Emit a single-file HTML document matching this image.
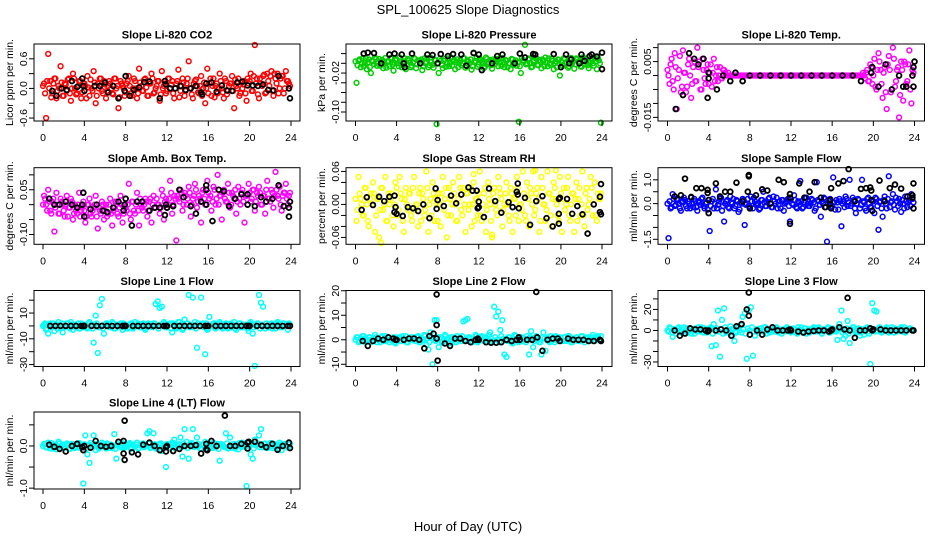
<!DOCTYPE html>
<html><head><meta charset="utf-8"><style>
html,body{margin:0;padding:0;background:#fff;}
svg{display:block;font-family:"Liberation Sans",sans-serif;}
</style></head><body>
<svg id="chart" width="936" height="540" viewBox="0 0 936 540" xmlns="http://www.w3.org/2000/svg">
<text x="468" y="14" text-anchor="middle" font-size="13">SPL_100625  Slope Diagnostics</text>
<text x="468" y="531" text-anchor="middle" font-size="13">Hour of Day (UTC)</text>
</svg>
<script>
// ---------- data ----------
const xTickVals=[0,4,8,12,16,20,24];
const xTickLabels=["0","4","8","12","16","20","24"];
const titles=["Slope Li-820 CO2","Slope Li-820 Pressure","Slope Li-820 Temp.","Slope Amb. Box Temp.","Slope Gas Stream RH","Slope Sample Flow","Slope Line 1 Flow","Slope Line 2 Flow","Slope Line 3 Flow","Slope Line 4 (LT) Flow"];
const yTitles=["Licor ppm per min.","kPa per min.","degrees C per min.","degrees C per min.","percent per min.","ml/min per min.","ml/min per min.","ml/min per min.","ml/min per min.","ml/min per min."];
const yLimits=[[-0.66,0.9],[-0.1185,0.0397],[-0.0163,0.0113],[-0.133,0.124],[-0.0725,0.0668],[-1.71,1.51],[-31.5,27.5],[-10.9,20.1],[-34.3,38],[-1.02,0.805]];
const yTickVals=[[-0.6,-0.3,0,0.3,0.6],[0.02,0,-0.02,-0.04,-0.06,-0.08,-0.1],[0.01,0.005,0,-0.005,-0.01,-0.015],[0.1,0.05,0,-0.05,-0.1],[0.06,0.04,0.02,0,-0.02,-0.04,-0.06],[1,0.5,0,-0.5,-1,-1.5],[20,10,0,-10,-20,-30],[20,15,10,5,0,-5,-10],[30,20,10,0,-10,-20,-30],[0.5,0,-0.5,-1]];
const yTickLabels=[["-0.6","","0.0","","0.6"],["","","-0.02","","","","-0.10"],["","0.005","","","","-0.015"],["","0.05","","","-0.10"],["0.06","","","0.00","","","-0.06"],["1.0","","0.0","","","-1.5"],["","10","","-10","","-30"],["20","","10","","0","","-10"],["","20","","0","","","-30"],["","0.0","","-1.0"]];
const seriesColors=["#ff0000","#00cd00","#ff00ff","#ff00ff","#ffff00","#0000ff","#00ffff","#00ffff","#00ffff","#00ffff"];
const slotStart=0.1, slotStep=0.2;   // first colored array sampled every 0.2 h
const slotStartB=0.0;                // second colored array offset by 0.1 h

const co2Y=[0.1,-0.6,0.7,0.15,-0.1,0.2,-0.2,0.05,0.45,-0.15,0.1,-0.05,0.2,-0.25,0.3,0.0,-0.1,0.15,-0.2,0.1,0.05,0.25,-0.15,0.0,0.35,-0.3,0.1,0.2,-0.05,0.15,-0.2,0.05,0.1,-0.1,0.2,0.0,-0.4,0.15,0.05,-0.15,0.1,0.25,-0.1,0.0,0.15,-0.2,0.4,0.05,-0.05,0.2,-0.15,0.1,0.3,-0.1,0.0,0.15,-0.25,0.35,0.05,-0.1,0.2,0.0,0.15,-0.2,0.1,0.38,-0.05,0.2,-0.15,0.1,0.55,0.0,-0.2,0.15,0.05,-0.1,0.25,0.0,-0.3,0.4,0.1,-0.15,0.2,0.05,-0.1,0.3,0.0,-0.2,0.15,-0.05,0.1,0.25,-0.4,0.05,0.2,-0.1,0.0,0.15,-0.25,0.1,0.3,-0.05,0.88,0.2,-0.2,0.1,0.25,-0.1,0.3,0.05,0.35,-0.15,0.2,0.3,0.0,0.25,-0.1,0.35,0.15,0.05];
const co2B=[0.05,-0.1,0.15,0.0,-0.18,0.1,0.2,-0.05,0.0,0.12,-0.15,0.08,0.18,-0.1,0.0,0.2,-0.12,0.05,0.15,-0.08,0.1,-0.2,0.02,0.18,-0.05,0.12,-0.15,0.0,0.2,-0.1,0.08,-0.05,0.15,0.0,-0.12,0.2,0.05,-0.18,0.1,0.0,-0.08,0.15,0.05,-0.15,0.2,0.0,-0.1,0.12,-0.05,0.18,0.02,-0.15,0.1,0.2,-0.08,0.05,0.15,-0.12,0.0,0.1,-0.05,0.2,0.08,-0.1,0.0,0.15,-0.18,0.05,0.12,-0.05,0.2,0.0,-0.12,0.1,0.18,-0.08,0.05,-0.15,0.12,0.0,-0.1,0.2,0.05,-0.18,0.1,0.0,0.15,-0.08,0.2,-0.12,0.05,0.1,-0.05,0.18,0.0,-0.15,0.12,0.08,-0.1,0.2,0.15,-0.05,0.25,0.1,-0.12,0.2,0.05,0.28,-0.08,0.15,0.25,-0.05,0.3,0.1,-0.1,0.2,0.25,0.0,0.15,0.1];
const co2Black=[[0.9,-0.05],[1.3,-0.15],[1.8,0.0],[2.3,-0.03],[2.8,0.15],[3.3,0.03],[3.8,0.2],[3.9,0.05],[4.0,-0.05],[5,0.05],[5.5,0.05],[6,0.12],[6.3,-0.08],[6.8,0.05],[7.3,-0.2],[7.9,-0.05],[8.0,0.25],[8.4,-0.15],[8.8,-0.03],[9.3,0.02],[9.8,0.13],[10.3,0.14],[11.3,-0.2],[11.8,0.15],[11.9,0.08],[12.3,0.0],[12.8,0.0],[13.3,0.05],[13.8,-0.03],[14.3,0.0],[14.8,0.05],[15.3,-0.08],[15.4,-0.12],[15.8,0.1],[16.3,0.12],[16.8,-0.07],[17.3,0.06],[17.8,-0.04],[18.3,-0.05],[18.8,0.12],[19.3,0.14],[19.8,0.06],[20.3,0.06],[20.8,0.05],[21.3,0.08],[21.8,-0.03],[22.3,-0.04],[22.8,0.25],[23.8,0.0],[23.9,-0.2]];

const presY=[-0.04,0.005,-0.008,0.01,0.0,-0.012,0.008,-0.02,0.004,0.012,-0.005,0.009,0.0,-0.01,0.011,0.003,-0.006,0.01,-0.015,0.006,0.0,0.012,-0.008,0.004,-0.012,0.009,0.002,-0.005,0.011,-0.01,0.006,0.0,-0.014,0.01,0.003,-0.008,0.012,-0.003,0.007,-0.125,-0.02,0.005,-0.01,0.009,0.0,-0.006,0.012,0.004,-0.012,0.008,0.001,-0.004,0.011,-0.009,0.006,0.0,-0.013,0.022,0.005,-0.007,0.01,0.003,-0.01,0.012,-0.002,0.007,-0.011,0.004,0.009,-0.006,0.002,0.011,-0.008,0.005,0.0,-0.012,0.008,0.003,-0.005,-0.12,-0.02,0.006,0.038,0.0,0.01,-0.008,0.004,0.011,-0.003,0.007,-0.01,0.005,0.012,-0.006,0.0,0.009,-0.012,0.004,0.008,-0.025,-0.004,0.011,0.002,-0.009,0.007,0.0,-0.011,0.01,0.004,-0.006,0.012,-0.002,0.008,-0.01,0.005,0.0,0.011,-0.012,0.006,-0.122];
const presB=[0.004,-0.004,0.008,0.0,-0.006,0.01,0.002,-0.008,0.006,-0.002,0.009,0.0,-0.005,0.007,0.003,-0.009,0.005,0.011,-0.003,0.001,0.008,-0.006,0.004,0.0,0.01,-0.004,0.006,-0.008,0.002,0.009,-0.002,0.005,0.008,-0.006,0.0,0.011,-0.004,0.003,-0.009,0.006,0.001,0.009,-0.003,0.005,-0.007,0.01,0.0,-0.005,0.007,0.003,-0.008,0.006,0.0,0.01,-0.004,0.004,0.008,-0.006,0.002,0.011,-0.003,0.006,0.0,-0.007,0.009,0.002,-0.004,0.008,-0.001,0.005,0.01,-0.005,0.003,0.007,-0.008,0.0,0.009,-0.003,0.006,0.002,-0.006,0.01,0.004,-0.002,0.008,0.0,-0.007,0.006,0.011,-0.004,0.003,0.008,-0.006,0.001,0.01,-0.003,0.005,0.0,-0.008,0.007,0.003,-0.005,0.009,0.001,-0.006,0.011,0.004,-0.002,0.008,0.0,-0.007,0.006,0.01,-0.004,0.002,0.008,-0.005,0.004,0.011,0.0];
const presBlack=[[0.8,0.02],[1.2,0.022],[1.8,0.021],[2.5,0.0],[3.3,0.018],[3.8,0.02],[4.5,0.018],[4.7,0.0],[4.8,-0.008],[5.5,0.02],[6.3,0.0],[7.0,0.018],[7.5,0.017],[8.0,0.0],[8.3,0.019],[9.0,0.015],[9.5,0.019],[10.3,0.018],[10.8,-0.005],[12.3,-0.014],[12.0,0.018],[11.5,0.021],[13.3,0.0],[13.8,0.015],[14.3,0.018],[15.5,0.0],[16.0,0.02],[16.5,0.012],[17.3,0.019],[17.5,0.018],[19.3,0.019],[20.5,0.018],[22.0,0.018],[21.8,0.0],[20.0,-0.008],[20.8,0.0],[21.0,0.008],[23.0,0.018],[23.5,0.014],[24.0,0.022],[24.0,-0.012],[22.3,0.005],[22.8,0.015]];

const tempY=[0.0,0.004,-0.002,0.008,-0.012,0.002,-0.006,0.009,0.001,-0.004,0.006,-0.008,0.003,-0.002,0.01,0.005,-0.005,0.002,-0.003,0.004,0.001,-0.004,0.006,0.0,-0.002,0.003,-0.001,0.002,0.0,0.001,
0,0,0,0,0,0,0,0,0,0,0,0,0,0,0,0,0,0,0,0,0,0,0,0,0,0,0,0,0,0,0,0,0,0,0,0,0,0,0,0,0,0,0,0,0,0,0,0,0,0,0,0,0,0,0,0,0,0,0,0,0,0,0,0,0,
0.0,0.001,-0.002,0.004,-0.003,0.006,-0.005,0.008,0.002,-0.008,0.003,-0.012,0.007,-0.006,0.01,-0.004,0.002,-0.015,0.005,-0.009,0.004,-0.002,0.009,-0.01,0.001];
const tempB=[0.002,-0.003,0.006,-0.005,0.003,-0.001,0.007,-0.004,0.001,-0.006,0.004,0.0,-0.003,0.005,-0.002,0.003,-0.005,0.006,-0.001,0.002,-0.003,0.004,0.001,-0.002,0.003,0.0,-0.001,0.002,0.001,0.0,
0,0,0,0,0,0,0,0,0,0,0,0,0,0,0,0,0,0,0,0,0,0,0,0,0,0,0,0,0,0,0,0,0,0,0,0,0,0,0,0,0,0,0,0,0,0,0,0,0,0,0,0,0,0,0,0,0,0,0,0,0,0,0,0,0,
0.001,-0.001,0.002,-0.002,0.003,0.0,-0.004,0.002,0.005,-0.003,0.001,-0.006,0.004,0.002,-0.005,0.006,-0.002,0.003,-0.007,0.002,0.005,-0.003,0.004,-0.005,0.002];
const tempBlack=[[0.8,-0.012],[1.5,-0.007],[2.1,0.008],[2.6,0.006],[3.0,0.004],[3.5,0.006],[4.0,-0.001],[4.0,0.001],[3.9,-0.008],[4.8,-0.005],[5.4,0.0],[6.1,-0.002],[6.6,0.001],[7.3,-0.002],[8,0],[9,0],[10,0],[11,0],[12,0],[13,0],[14,0],[15,0],[16,0],[17,0],[18,0],[18.8,-0.002],[19.8,0.001],[19.9,0.003],[21.2,0.004],[20.5,-0.004],[22.5,0.0],[22.9,-0.004],[23.8,0.0],[23.9,0.003],[24,0.005],[21.8,-0.005],[23.2,-0.004],[23.9,-0.004]];

const ambY=[0.03,0.0,0.05,-0.02,0.01,-0.09,0.04,-0.03,0.02,0.0,-0.04,0.03,-0.01,0.02,-0.05,0.0,-0.03,0.04,-0.02,0.01,-0.06,0.0,0.02,-0.04,-0.01,0.03,-0.08,-0.02,0.01,-0.05,0.0,-0.03,0.02,-0.07,-0.01,0.01,-0.04,0.03,-0.06,0.0,-0.02,0.07,-0.05,0.01,-0.03,0.04,-0.07,0.0,-0.02,0.02,-0.04,0.01,-0.06,0.03,-0.01,0.0,-0.03,0.05,-0.05,0.02,0.0,0.08,-0.03,0.03,-0.12,0.02,0.05,-0.02,0.04,0.0,0.06,-0.04,0.02,0.07,-0.01,0.03,-0.06,0.05,0.0,0.08,0.02,-0.02,0.06,0.0,0.1,0.03,-0.05,0.05,0.01,0.07,-0.01,0.04,0.02,-0.03,0.06,0.0,0.05,-0.06,0.03,0.07,0.01,0.05,-0.02,0.04,0.06,0.0,0.03,-0.03,0.08,0.02,0.05,-0.01,0.11,0.03,0.06,-0.02,0.04,0.07,0.0,0.04];
const ambB=[0.0,0.02,-0.02,0.01,-0.03,0.02,-0.01,0.0,-0.03,0.01,-0.02,0.0,-0.04,-0.01,0.01,-0.03,-0.02,0.0,-0.04,-0.01,-0.02,-0.04,0.0,-0.03,-0.02,0.0,-0.04,-0.01,-0.03,0.0,-0.02,-0.04,0.0,-0.03,-0.02,0.01,-0.03,-0.01,0.0,-0.03,-0.01,0.0,-0.03,0.01,-0.02,0.0,-0.02,0.02,-0.01,0.0,0.01,-0.02,0.02,0.0,-0.01,0.02,0.0,-0.01,0.03,0.01,-0.01,0.02,0.04,0.0,0.02,0.03,0.01,0.04,0.0,0.03,0.02,0.04,0.0,0.03,0.05,0.01,0.02,0.04,0.02,0.0,0.04,0.03,0.01,0.05,0.02,0.0,0.03,0.04,0.02,0.01,0.04,0.0,0.03,0.05,0.01,0.02,0.04,0.01,0.03,0.0,0.04,0.02,0.05,0.01,0.03,0.04,0.0,0.03,0.05,0.02,0.01,0.04,0.03,0.05,0.02,0.0,0.03,0.04,0.02,0.03];
const ambBlack=[[0.6,0.02],[1.1,0.0],[1.6,0.0],[2.2,0.01],[2.8,0.0],[3.3,-0.01],[3.8,0.0],[3.9,0.04],[4.0,-0.04],[4.6,-0.015],[5.2,0.0],[5.8,-0.02],[6.2,-0.025],[6.8,-0.01],[7.3,0.01],[7.8,-0.02],[7.9,0.0],[8.0,0.02],[8.6,-0.07],[9.1,0.01],[9.6,0.01],[10.3,-0.02],[10.8,-0.01],[11.3,-0.01],[11.8,-0.035],[11.9,0.0],[12.0,-0.01],[12.6,-0.005],[13.2,0.05],[13.6,0.025],[14.3,-0.005],[14.8,-0.03],[15.3,0.01],[15.8,0.065],[15.8,0.05],[15.8,0.0],[16.4,-0.055],[17.0,0.05],[17.5,0.045],[18.0,-0.005],[18.6,0.02],[19.2,0.035],[19.8,0.035],[19.8,0.0],[20.5,-0.005],[21.1,0.025],[21.6,0.01],[22.2,0.02],[22.8,0.065],[23.3,-0.005],[23.8,-0.04],[23.9,0.01],[23.8,-0.01]];

const rhY=[-0.03,0.05,0.01,-0.02,0.03,0.0,-0.04,0.02,0.04,-0.05,0.01,-0.06,0.03,-0.01,0.05,-0.03,0.0,0.02,-0.04,0.04,-0.02,0.05,0.01,-0.05,0.03,-0.01,0.02,-0.03,0.05,0.0,-0.04,0.03,0.02,-0.02,0.06,-0.05,0.01,0.04,-0.03,0.0,0.02,-0.04,0.05,0.01,-0.06,0.03,-0.02,0.04,0.0,-0.03,0.05,-0.01,0.03,-0.05,0.02,0.0,-0.04,0.04,0.01,-0.02,0.06,-0.03,0.02,-0.05,0.04,0.0,-0.06,0.03,-0.01,0.05,0.02,-0.04,0.0,0.04,-0.02,0.03,-0.05,0.01,0.05,-0.03,0.0,0.06,-0.02,0.04,-0.04,0.02,0.06,-0.01,0.03,-0.05,0.05,0.0,-0.03,0.06,0.02,-0.04,0.04,0.01,-0.02,0.05,-0.05,0.03,0.0,0.05,-0.03,0.02,-0.05,0.04,0.01,-0.02,0.06,-0.04,0.03,0.0,0.05,-0.02,0.04,-0.03,0.01,0.02];
const rhB=[0.01,-0.01,0.02,0.0,-0.02,0.03,-0.03,0.01,0.0,0.02,-0.02,0.01,-0.01,0.03,0.0,-0.03,0.02,0.01,-0.02,0.0,0.03,-0.01,0.02,-0.03,0.01,0.0,0.02,-0.02,0.03,-0.01,0.0,0.02,-0.03,0.01,-0.01,0.03,0.0,-0.02,0.02,0.01,-0.03,0.0,0.02,-0.01,0.03,-0.02,0.01,0.0,0.02,-0.03,0.01,0.03,-0.02,0.0,0.02,-0.01,0.03,0.0,-0.03,0.01,0.02,-0.02,0.0,0.03,-0.01,0.01,-0.03,0.02,0.0,-0.02,0.03,0.01,-0.01,0.02,0.0,-0.03,0.02,0.01,-0.02,0.03,0.0,-0.01,0.02,-0.03,0.01,0.03,0.0,-0.02,0.02,0.01,-0.03,0.03,0.0,-0.01,0.02,-0.02,0.01,0.03,0.0,-0.03,0.02,0.01,-0.01,0.03,-0.02,0.0,0.02,0.01,-0.03,0.03,0.0,-0.02,0.02,-0.01,0.01,0.03,0.0,-0.02,0.02,0.01];
const rhExtra=[[2.5,-0.07],[13.3,-0.055],[17.5,0.062],[19.5,0.062],[11.5,0.055]];
const rhBlack=[[0.6,-0.01],[1.1,0.013],[1.7,-0.001],[2.3,0.014],[2.8,0.006],[3.3,0.014],[3.8,0.016],[3.8,-0.014],[3.9,-0.005],[4.0,-0.017],[4.6,-0.021],[5.1,-0.005],[5.6,-0.007],[6.1,-0.012],[6.6,0.0],[7.2,-0.025],[7.8,0.029],[7.9,-0.008],[8.0,0.008],[8.6,-0.003],[9.3,0.016],[9.8,0.002],[10.3,0.018],[11.0,0.031],[11.4,0.025],[11.9,-0.007],[11.8,0.025],[12.0,0.005],[12.0,-0.005],[12.5,-0.023],[13.0,0.029],[13.6,0.006],[14.2,-0.015],[14.9,0.004],[15.3,-0.005],[15.7,0.023],[15.8,0.018],[15.8,0.038],[15.9,-0.007],[16.5,0.012],[17.0,-0.037],[17.6,0.006],[18.2,0.015],[18.6,-0.025],[19.2,-0.04],[19.8,-0.035],[19.8,-0.017],[19.9,0.012],[19.8,0.01],[20.6,0.01],[21.1,-0.017],[21.6,-0.003],[22.1,-0.018],[22.6,-0.053],[23.2,0.0],[23.8,0.014],[23.8,-0.014],[23.9,-0.018],[23.9,0.037]];

const flowY=[-1.45,-0.2,0.4,-0.1,0.2,0.0,-0.3,0.1,0.15,-0.2,0.0,0.25,-0.15,0.1,-0.3,0.05,0.2,-0.1,0.0,-0.25,-1.15,0.1,-0.2,0.6,-0.05,0.2,-0.3,-0.75,0.1,-0.15,0.3,0.0,-0.2,0.15,-0.35,0.05,0.2,-0.9,0.0,-0.1,0.3,-0.2,0.1,0.0,-0.25,0.15,0.5,-0.1,0.05,0.25,-0.15,0.3,0.0,-0.2,0.1,0.15,-0.3,0.05,0.2,-0.75,0.0,0.35,-0.15,0.1,0.95,-0.2,0.05,0.25,-0.1,0.0,0.15,-0.3,0.9,0.1,-0.55,0.0,0.2,-1.6,0.1,-0.15,1.1,-0.25,0.05,0.2,-0.95,0.1,0.3,-0.1,1.0,0.0,0.15,-0.4,0.2,-0.2,1.0,0.05,-0.3,0.25,-0.15,0.1,-0.4,0.2,-1.1,0.1,-0.55,0.3,-0.2,1.15,0.05,0.4,-0.25,0.1,0.2,-0.35,0.0,0.3,-0.15,0.15,0.4,0.05];
const flowB=[0.0,0.1,-0.15,0.2,-0.05,0.15,-0.2,0.05,0.25,-0.1,0.1,-0.2,0.0,0.2,-0.15,0.1,-0.05,0.25,-0.2,0.05,0.15,-0.1,0.2,0.0,-0.2,0.1,0.25,-0.1,0.0,0.15,-0.2,0.05,0.2,-0.1,0.1,-0.25,0.0,0.15,-0.05,0.2,-0.15,0.1,0.25,-0.05,0.0,-0.2,0.15,0.05,-0.1,0.2,0.0,-0.15,0.1,0.25,-0.05,-0.2,0.15,0.0,0.1,-0.1,0.2,-0.05,0.15,-0.2,0.05,0.1,-0.15,0.25,0.0,-0.1,0.2,0.05,-0.2,0.15,-0.05,0.1,0.25,-0.15,0.0,0.2,-0.1,0.05,0.15,-0.25,0.1,0.0,-0.15,0.2,0.05,-0.1,0.25,-0.2,0.0,0.15,-0.05,0.1,-0.2,0.2,0.0,-0.15,0.1,0.25,-0.1,0.05,-0.2,0.15,0.0,0.2,-0.15,0.1,-0.05,0.25,-0.1,0.0,0.15,-0.2,0.1,0.05,-0.1,0.2];
const flowBlack=[[0.7,0.3],[1.3,0.35],[1.7,1.05],[2.3,0.28],[2.8,0.65],[3.3,0.65],[3.9,0.58],[3.9,0.45],[4.0,0.15],[4.0,-0.4],[4.7,0.85],[5.1,0.3],[5.6,0.5],[6.1,0.5],[6.7,0.88],[7.3,0.1],[7.8,0.5],[7.9,1.15],[7.9,1.2],[8.0,-0.2],[8.6,0.35],[9.2,0.6],[9.7,0.55],[10.0,0.0],[10.8,1.0],[11.3,0.9],[11.9,0.4],[11.9,0.25],[11.9,-0.85],[12.8,0.85],[13.3,0.25],[13.8,0.5],[14.3,0.9],[14.9,0.25],[15.3,-0.15],[15.8,0.0],[15.8,0.15],[15.9,-0.2],[15.9,0.65],[16.6,0.85],[17.1,0.95],[17.6,1.45],[18.2,0.1],[18.8,0.62],[19.3,0.65],[19.7,0.68],[19.8,0.55],[19.8,0.15],[19.9,-0.3],[20.6,0.97],[21.1,0.1],[21.6,0.65],[22.1,0.8],[22.7,0.63],[23.3,0.3],[23.8,0.35],[23.8,0.25],[23.9,0.85],[23.9,-0.2]];

const line1Y=[1,-3,-6,2,0,-4,1,3,-2,-5,0,2,-1,3,-3,1,0,-2,2,-1,0,-2,3,1,-13,8,-21,16,21,-6,2,0,-1,3,-2,1,0,2,-3,1,0,-1,2,-2,3,0,1,-1,2,-3,-1,1,0,2,17,19,14,15,3,-1,0,2,-5,1,-2,3,0,-3,5,2,24,-1,22,3,-17,0,22,2,-22,-3,7,0,2,-2,1,3,-1,0,2,-2,1,-1,3,-3,0,2,-1,1,0,-4,3,-6,-31,2,24,18,15,-2,0,-1,2,1,-2,3,0,-1,2,0,-3,1];
const line1B=[0,2,-2,1,-1,2,0,-2,1,2,-1,0,2,-2,1,0,-1,2,-2,0,1,-1,2,0,-2,1,2,-1,0,-2,1,2,0,-1,2,-2,0,1,-1,2,0,-2,1,2,-1,0,2,-1,1,-2,0,2,1,-1,2,0,-2,1,0,2,-1,1,-2,2,0,-1,3,1,-2,0,2,-1,1,0,-2,2,0,1,-1,2,-2,0,1,2,-1,0,2,-2,1,0,-1,2,1,-2,0,2,-1,1,0,-2,2,1,-1,0,2,-2,1,0,2,-1,1,-2,0,2,1,-1,2,0,1,2];
const line1Black=[[0.7,0],[1.2,0],[1.7,0],[2.2,0],[2.7,0],[3.2,0],[3.7,0],[3.9,0],[4.0,0],[4.7,0],[5.2,0],[5.7,0],[6.2,0],[6.7,0],[7.2,0],[7.7,0],[7.9,0],[8.0,0],[8.7,0],[9.2,0],[9.7,0],[10.2,0],[10.7,0],[11.2,0],[11.7,0],[11.9,0],[12.0,0],[12.7,0],[13.2,0],[13.7,0],[14.2,0],[14.7,0],[15.2,0],[15.7,0],[15.9,0],[16.0,0],[16.7,0],[17.2,0],[17.7,0],[18.2,0],[18.7,0],[19.2,0],[19.7,0],[19.9,0],[20.0,0],[20.7,0],[21.2,0],[21.7,0],[22.2,0],[22.7,0],[23.2,0],[23.7,0],[23.9,0]];

const line2Y=[1,-1,0.5,1.5,-0.5,0,1,-1,0.5,2,-1,0,1,-0.5,1.5,0,-1,0.5,1,-1.5,0.5,1,-0.5,0,1.5,-1,0.5,0,1,-0.5,1.5,-1,0,2,-2,-4,3,-10,8,8,-3,1,-1,2,0,-1.5,1,0.5,-1,1.5,0,-0.5,7.5,8,8.5,1,-1,0,2,-1,0.5,1.5,-0.5,1,0,3,-1,13.5,9.5,11.5,4,8,-6,-7,1,0,-1.5,2,0.5,-1,1,-0.5,0,1.5,-6,3.5,-3,1,0,-1,-6,3,-4.5,1,-1,0.5,0,1.5,-0.5,1,0,1,-0.5,1.5,0,-1,0.5,1,-0.5,0,1.5,-1,0.5,0,1,2,-0.5,1,0,1.5];
const line2B=[0,1,-0.5,0.5,1.5,-1,0,1,-0.5,0.5,1,0,-1,1.5,0.5,-0.5,1,0,0.5,-1,1,0.5,-0.5,1.5,0,-1,0.5,1,0,-0.5,1,-1,0.5,0,1.5,0.5,-1,1,0,-0.5,1,0.5,-1,0,1.5,0.5,-0.5,1,0,-1,0.5,1,1.5,0,-0.5,1,0.5,-1,0,1.5,-0.5,1,0,0.5,-1,2,0.5,-0.5,1,0,-1,1.5,0.5,0,-0.5,1,-1,0.5,1.5,0,-0.5,1,0.5,-1,0,1,0.5,-0.5,1.5,0,-1,1,0.5,0,-0.5,1.5,0.5,-1,1,0,0.5,-0.5,1,0,1.5,-1,0.5,0,1,-0.5,1.5,0,0.5,1,-0.5,0,1,0.5,1.5,0];
const line2Black=[[0.7,-0.5],[1.2,-2.5],[1.7,-0.5],[2.2,0.5],[2.7,0],[3.2,1],[3.7,0.5],[3.9,0],[4.0,0],[4.7,0],[5.2,0.5],[5.7,0.5],[6.2,0],[6.7,-3.5],[7.2,1.5],[7.6,2.5],[7.9,18.5],[7.9,6],[7.9,0.5],[8.0,-8.5],[8.7,-1.5],[9.2,-2.5],[9.7,0.5],[10.2,0.5],[10.7,-0.5],[11.2,-1],[11.7,0],[11.9,0.5],[12.0,0],[12.7,-1],[13.2,-1.2],[13.7,-1.2],[14.2,-1],[14.7,0],[15.2,-0.5],[15.7,0],[15.9,1],[16.0,0],[16.7,0],[17.2,0],[17.6,19.5],[17.7,1],[18.2,-4.5],[18.7,0],[19.2,0.5],[19.7,0.5],[19.9,-0.5],[20.7,0.5],[21.2,0],[21.7,0],[22.2,0],[22.7,-0.5],[23.2,-0.5],[23.8,0],[23.9,-0.5]];

const line3Y=[-1,2,-6,1,0,3,-2,1,-1,2,0,-3,1,2,-1,0,3,-2,1,0,2,-15,6,-14,19,-25,10,21,-2,0,4,-5,-10,-2,3,5,13,16,-27,19,22,-24,-5,1,0,2,-1,3,0,-2,1,0,-1,2,0,-3,1,0,2,-1,0,1,-2,3,0,-1,2,-3,1,0,2,-1,0,3,-1,1,0,2,-2,1,0,-1,-9,6,19,-8,-5,9,-12,1,3,-2,0,-5,1,-4,2,-1,-32,26,19,18,2,-1,0,1,3,-2,0,1,2,-1,0,3,1,-2,0,2,1,0];
const line3B=[0,3,-2,1,-3,2,0,-1,3,1,-2,2,0,-3,1,3,-1,0,2,-2,1,3,-3,0,2,-1,1,-3,3,0,-2,1,2,-1,3,0,-2,1,-3,2,0,3,-1,1,-2,2,0,3,-3,1,0,-1,2,3,-2,0,1,-1,3,0,-2,2,1,-3,0,3,-1,2,0,-2,1,3,-1,0,2,-3,1,0,3,-2,2,0,-1,3,1,-2,0,2,-3,1,3,0,-1,2,-2,1,0,3,-3,2,1,-1,0,3,-2,1,2,0,-1,3,-2,0,1,2,-1,3,0,1,2,0];
const line3Black=[[0.7,0],[1.2,-5],[1.7,-3],[2.2,2],[2.7,1],[3.2,1],[3.7,0],[3.9,-1],[4.0,0],[4.7,0],[5.2,1],[5.7,0],[6.2,-5],[6.7,4],[7.2,6],[7.7,20],[7.9,36],[7.9,14],[8.0,-4],[8.7,0],[9.2,-4],[9.7,1],[10.2,3],[10.7,0],[11.2,0],[11.7,0],[11.9,1],[12.0,0],[12.7,-1],[13.2,-2],[13.7,-1],[14.2,-0.5],[14.7,0],[15.2,0],[15.7,-1],[15.9,0],[16.0,1],[16.7,3],[17.2,1],[17.5,31],[17.7,0],[18.2,-7],[18.7,0],[19.2,0],[19.7,2],[19.9,0],[20.0,1],[20.7,1],[21.2,0],[21.7,0],[22.2,0],[22.7,0],[23.2,0],[23.8,0],[23.9,0]];

const line4Y=[0.05,-0.03,0.08,-0.06,0.02,0.0,-0.08,0.1,-0.04,0.03,-0.02,0.06,-0.07,0.01,0.04,-0.05,0.0,0.07,-0.03,-0.89,0.25,-0.2,-0.4,0.02,0.25,-0.1,0.05,-0.03,0.08,0.0,-0.06,0.04,0.02,-0.05,0.28,-0.3,0.1,-0.02,0.06,-0.04,0.0,0.05,-0.07,0.03,-0.02,0.08,-0.05,0.01,0.06,0.0,0.3,0.35,-0.04,0.3,0.02,-0.06,0.05,-0.12,0.0,-0.5,0.03,-0.05,0.08,0.15,-0.03,0.04,0.2,-0.25,0.4,0.1,-0.3,0.05,0.4,-0.02,0.2,0.0,-0.06,0.04,0.1,0.02,-0.05,0.0,0.08,-0.03,0.05,-0.35,0.02,0.0,0.3,-0.06,0.2,-0.04,0.05,0.0,-0.08,0.03,0.08,-0.02,-0.95,0.0,-0.2,-0.3,0.15,0.05,0.25,0.4,-0.03,0.06,-0.05,0.02,0.0,0.05,-0.06,0.03,0.08,-0.1,0.02,0.0,-0.04,0.05];
const line4B=[0.0,0.05,-0.04,0.02,0.07,-0.06,0.03,-0.02,0.06,0.0,-0.05,0.04,0.01,-0.07,0.05,0.02,-0.03,0.06,-0.05,0.0,0.04,-0.06,0.02,0.07,-0.03,0.01,0.05,-0.06,0.0,0.04,-0.02,0.06,-0.05,0.03,0.0,-0.07,0.05,0.01,-0.04,0.06,-0.02,0.03,0.07,-0.05,0.0,0.04,-0.06,0.02,0.05,-0.03,0.01,0.06,-0.05,0.0,0.04,-0.07,0.03,0.06,-0.02,0.0,0.05,-0.04,0.02,0.07,-0.06,0.01,0.04,-0.03,0.06,0.0,-0.05,0.03,0.07,-0.02,0.0,0.05,-0.06,0.02,0.04,-0.04,0.01,0.06,-0.05,0.03,0.0,-0.07,0.05,0.02,-0.03,0.06,-0.05,0.0,0.04,-0.06,0.03,0.07,-0.02,0.01,0.05,-0.05,0.0,0.04,-0.06,0.02,0.06,-0.03,0.01,0.05,-0.04,0.0,0.07,-0.05,0.02,0.04,-0.06,0.03,0.0,0.05,-0.02,0.04];
const line4Black=[[0.6,0.03],[1.1,-0.02],[1.6,-0.07],[2.2,-0.13],[2.8,0.0],[3.3,0.05],[3.8,-0.03],[3.9,-0.1],[4.0,0.0],[4.6,-0.04],[5.1,0.12],[5.6,0.0],[6.1,-0.02],[6.6,0.0],[7.3,0.1],[7.8,0.12],[7.9,0.6],[7.8,-0.18],[7.9,-0.33],[8.6,-0.15],[9.2,-0.2],[9.7,0.03],[10.3,0.08],[10.8,0.0],[11.3,-0.1],[11.9,-0.03],[11.9,-0.13],[12.0,0.0],[12.6,-0.12],[13.2,-0.07],[13.7,0.0],[14.3,0.0],[14.8,0.02],[15.3,-0.18],[15.8,0.05],[15.8,-0.08],[15.9,-0.1],[16.3,0.12],[16.8,0.0],[17.6,0.72],[18.1,0.0],[18.6,0.0],[19.2,0.05],[19.8,0.08],[19.8,-0.06],[19.9,0.1],[20.5,0.1],[21.1,0.03],[21.6,-0.03],[22.2,0.05],[22.7,-0.09],[23.2,0.0],[23.8,0.08],[23.9,-0.05]];

const colorSeries=[co2Y,presY,tempY,ambY,rhY,flowY,line1Y,line2Y,line3Y,line4Y];
const colorSeriesB=[co2B,presB,tempB,ambB,rhB,flowB,line1B,line2B,line3B,line4B];
const extraSeries=[[],[],[],[],rhExtra,[],[],[],[],[]];
const blackSeries=[co2Black,presBlack,tempBlack,ambBlack,rhBlack,flowBlack,line1Black,line2Black,line3Black,line4Black];

// ---------- layout ----------
const cols=[{l:34,r:300,x0:43,x24:291},{l:346,r:612,x0:355.5,x24:602},{l:658,r:924.5,x0:667.5,x24:914.5}];
const rows=[{t:44,b:121},{t:167.7,b:244.3},{t:290.5,b:366.5},{t:412,b:489}];
const NS="http://www.w3.org/2000/svg";
const svg=document.getElementById('chart');
function mk(tag,attrs,parent){const e=document.createElementNS(NS,tag);for(const k in attrs)e.setAttribute(k,attrs[k]);(parent||svg).appendChild(e);return e;}

for(let p=0;p<10;p++){
  const c=cols[p%3], r=rows[Math.floor(p/3)];
  const [ymin,ymax]=yLimits[p];
  const xs=h=>c.x0+h/24*(c.x24-c.x0);
  const ys=v=>r.t+(ymax-v)/(ymax-ymin)*(r.b-r.t);
  const g=mk('g',{});
  
  
  const t=mk('text',{x:(c.l+c.r)/2,y:r.t-5.5,'text-anchor':'middle','font-size':11,'font-weight':'bold'},g);
  
  
  t.textContent=titles[p];
  const yt=mk('text',{transform:`translate(${c.l-21},${(r.t+r.b)/2}) rotate(-90)`,'text-anchor':'middle','font-size':10.5},g);
  
  
  yt.textContent=yTitles[p];
  const pts=mk('g',{fill:'none','stroke-width':1.5},g);
  
  
  colorSeriesB[p].forEach((v,i)=>{
    const cc=mk('circle',{cx:xs(slotStartB+i*slotStep),cy:ys(v),r:2.4,stroke:seriesColors[p]},pts);
    
    
  });
  colorSeries[p].forEach((v,i)=>{
    const cc=mk('circle',{cx:xs(slotStart+i*slotStep),cy:ys(v),r:2.4,stroke:seriesColors[p]},pts);
    
    
  });
  extraSeries[p].forEach(d=>{
    const cc=mk('circle',{cx:xs(d[0]),cy:ys(d[1]),r:2.4,stroke:seriesColors[p]},pts);
    
    
  });
  blackSeries[p].forEach(d=>{
    const cc=mk('circle',{cx:xs(d[0]),cy:ys(d[1]),r:2.4,stroke:'#000','stroke-width':1.8},pts);
    
    
  });
  const box=mk('rect',{x:c.l,y:r.t,width:c.r-c.l,height:r.b-r.t,fill:'none',stroke:'#000','stroke-width':1},g);
  
  
  const xa=mk('g',{},g);
  
  
  xTickVals.forEach((v,i)=>{
    mk('line',{x1:xs(v),x2:xs(v),y1:r.b,y2:r.b+5,stroke:'#000'},xa);
    const lt=mk('text',{x:xs(v),y:r.b+20,'text-anchor':'middle','font-size':10.5},xa);
    
    
    lt.textContent=xTickLabels[i];
  });
  const ya=mk('g',{},g);
  
  
  yTickVals[p].forEach((v,i)=>{
    mk('line',{x1:c.l-5,x2:c.l,y1:ys(v),y2:ys(v),stroke:'#000'},ya);
    if(yTickLabels[p][i]){
      const lt=mk('text',{transform:`translate(${c.l-7},${ys(v)}) rotate(-90)`,'text-anchor':'middle','font-size':10.5},ya);
      
      
      lt.textContent=yTickLabels[p][i];
    }
  });
}
</script>
</body></html>
